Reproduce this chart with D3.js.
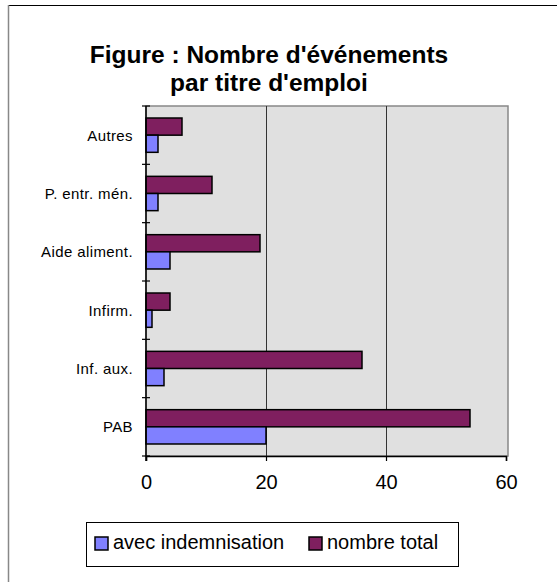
<!DOCTYPE html>
<html>
<head>
<meta charset="utf-8">
<script src="https://d3js.org/d3.v7.min.js"></script>
<style>
  body { margin: 0; background: #fff; }
  text { font-family: "Liberation Sans", Arial, sans-serif; }
</style>
</head>
<body>
<svg width="557" height="582"></svg>
<script>
// data, top to bottom as in the picture
const categories = ["Autres", "P. entr. mén.", "Aide aliment.", "Infirm.", "Inf. aux.", "PAB"];
const avecIndemnisation = [2, 2, 4, 1, 3, 20];
const nombreTotal = [6, 11, 19, 4, 36, 54];
const seriesNames = ["avec indemnisation", "nombre total"];
const xTicks = [0, 20, 40, 60];

const svg = d3.select("svg");

// outer chart frame (right and bottom edges are cut off)
svg.append("rect")
  .attr("x", 8.5).attr("y", 5.5)
  .attr("width", 560).attr("height", 600)
  .style("fill", "none").style("stroke", "#000").style("stroke-width", 1);
svg.append("line")
  .attr("x1", 8.5).attr("x2", 8.5).attr("y1", 5).attr("y2", 582)
  .style("stroke", "#888").style("stroke-width", 1.5);

// title
const title = svg.append("text")
  .attr("text-anchor", "middle")
  .style("font-size", "24.5px").style("font-weight", "bold");
title.append("tspan").attr("x", 269).attr("y", 63).text("Figure : Nombre d'événements");
title.append("tspan").attr("x", 269).attr("y", 91).text("par titre d'emploi");

const pLeft = 146, pRight = 506, pTop = 106, pBottom = 456;
var x = d3.scaleLinear().domain([0, 60]).range([pLeft, pRight]);
var y = d3.scaleBand().domain(categories).range([pTop, pBottom]).padding(0);
var y1 = d3.scaleBand().domain(["total", "avec"]).range([0, y.bandwidth()])
  .paddingInner(0).paddingOuter(0.7);

// plot background
svg.append("rect")
  .attr("x", pLeft).attr("y", pTop)
  .attr("width", pRight + 2 - pLeft).attr("height", pBottom - pTop)
  .style("fill", "#e0e0e0").style("stroke", "#888").style("stroke-width", 1.5);

// grid lines
svg.append("g").selectAll("line").data([20, 40]).enter().append("line")
  .attr("x1", function(d){ return Math.round(x(d)) + 0.5; })
  .attr("x2", function(d){ return Math.round(x(d)) + 0.5; })
  .attr("y1", pTop).attr("y2", pBottom)
  .style("stroke", "#333").style("stroke-width", 1);

// bars
var rows = categories.map(function(c, i){ return {cat: c, avec: avecIndemnisation[i], total: nombreTotal[i]}; });
var g = svg.append("g");
g.selectAll(".total").data(rows).enter().append("rect")
  .attr("x", x(0))
  .attr("y", function(d){ return y(d.cat) + y1("total"); })
  .attr("width", function(d){ return x(d.total) - x(0); })
  .attr("height", y1.bandwidth())
  .style("fill", "#7f1f5f").style("stroke", "#000").style("stroke-width", 1.5);
g.selectAll(".avec").data(rows).enter().append("rect")
  .attr("x", x(0))
  .attr("y", function(d){ return y(d.cat) + y1("avec"); })
  .attr("width", function(d){ return x(d.avec) - x(0); })
  .attr("height", y1.bandwidth())
  .style("fill", "#8080ff").style("stroke", "#000").style("stroke-width", 1.5);

// y axis
var ya = svg.append("g").attr("transform", "translate(" + pLeft + ",0)");
ya.append("line").attr("x1", 0).attr("x2", 0).attr("y1", pTop).attr("y2", pBottom + 5)
  .style("stroke", "#000").style("stroke-width", 1.5);
var yTickPos = categories.map(function(c){ return y(c); }).concat([pBottom]);
ya.selectAll(".tk").data(yTickPos).enter().append("line")
  .attr("x1", -4).attr("x2", 4)
  .attr("y1", function(d){ return d; }).attr("y2", function(d){ return d; })
  .style("stroke", "#000").style("stroke-width", 1.2);
ya.selectAll("text").data(categories).enter().append("text")
  .attr("x", -13)
  .attr("y", function(d){ return y(d) + y.bandwidth() / 2; })
  .attr("dy", "0.36em")
  .attr("text-anchor", "end")
  .style("font-size", "15px")
  .style("letter-spacing", "0.4px")
  .text(function(d){ return d; });

// x axis
var xa = svg.append("g").attr("transform", "translate(0," + pBottom + ")")
  .call(d3.axisBottom(x).tickValues(xTicks).tickSize(5).tickPadding(14));
xa.select(".domain").style("stroke", "#000").style("stroke-width", 1.5);
xa.selectAll(".tick line").style("stroke", "#000").style("stroke-width", 1.2);
xa.selectAll(".tick text").style("font-size", "20px")
  .style("font-family", "'Liberation Sans', Arial, sans-serif").style("fill", "#000");

// legend
var lg = svg.append("g");
lg.append("rect").attr("x", 86.5).attr("y", 522.5).attr("width", 372).attr("height", 44)
  .style("fill", "#fff").style("stroke", "#000").style("stroke-width", 1);
var legX = [95, 309];
var legColors = ["#8080ff", "#7f1f5f"];
lg.selectAll(".sw").data(seriesNames).enter().append("rect")
  .attr("x", function(d, i){ return legX[i]; }).attr("y", 537)
  .attr("width", 13).attr("height", 13)
  .style("fill", function(d, i){ return legColors[i]; })
  .style("stroke", "#000").style("stroke-width", 1.5);
lg.selectAll("text").data(seriesNames).enter().append("text")
  .attr("x", function(d, i){ return legX[i] + 18; }).attr("y", 549)
  .style("font-size", "20px")
  .text(function(d){ return d; });
</script>
</body>
</html>
